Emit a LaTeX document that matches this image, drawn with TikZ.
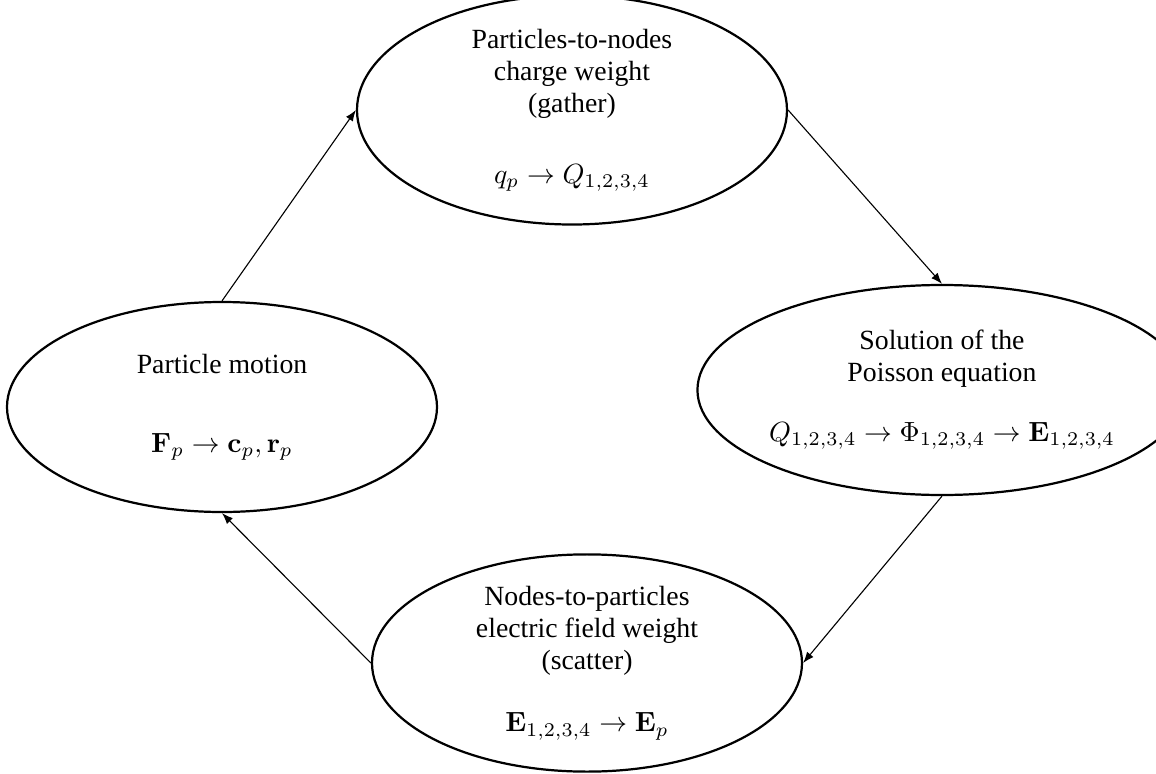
\documentclass[tikz,border=0pt]{standalone}
\usepackage{amsmath}
\usepackage[no-math]{fontspec}
\setmainfont{Liberation Serif}
\usetikzlibrary{shapes.geometric, arrows.meta}

\begin{document}
\begin{tikzpicture}[
  x=0.36pt, y=-0.36pt,
  stage/.style={draw, ellipse, line width=0.8pt, inner sep=0pt,
    minimum width=154.8pt, minimum height=75.6pt, align=center,
    font=\fontsize{10}{11.5}\selectfont},
  arrow/.style={-{Latex[length=4pt, width=3pt]}, line width=0.4pt},
]
  \useasboundingbox (0,0) rectangle (1156,774);

  \node[stage] (gather) at (572,110) {Particles-to-nodes\\charge weight\\(gather)\\[14pt]$q_{p}\to Q_{1,2,3,4}$};
  \node[stage] (poisson) at (942,390) {Solution of the\\Poisson equation\\[10pt]$Q_{1,2,3,4}\to \Phi_{1,2,3,4}\to \mathbf{E}_{1,2,3,4}$};
  \node[stage] (scatter) at (587,663) {Nodes-to-particles\\electric field weight\\(scatter)\\[11pt]$\mathbf{E}_{1,2,3,4}\to \mathbf{E}_{p}$};
  \node[stage] (motion) at (222,407) {Particle motion\\[17pt]$\mathbf{F}_{p}\to \mathbf{c}_{p},\mathbf{r}_{p}$};

  \draw[arrow] (motion.north) -- (gather.west);
  \draw[arrow] (gather.east) -- (poisson.north);
  \draw[arrow] (poisson.south) -- (scatter.east);
  \draw[arrow] (scatter.west) -- (motion.south);
\end{tikzpicture}
\end{document}
